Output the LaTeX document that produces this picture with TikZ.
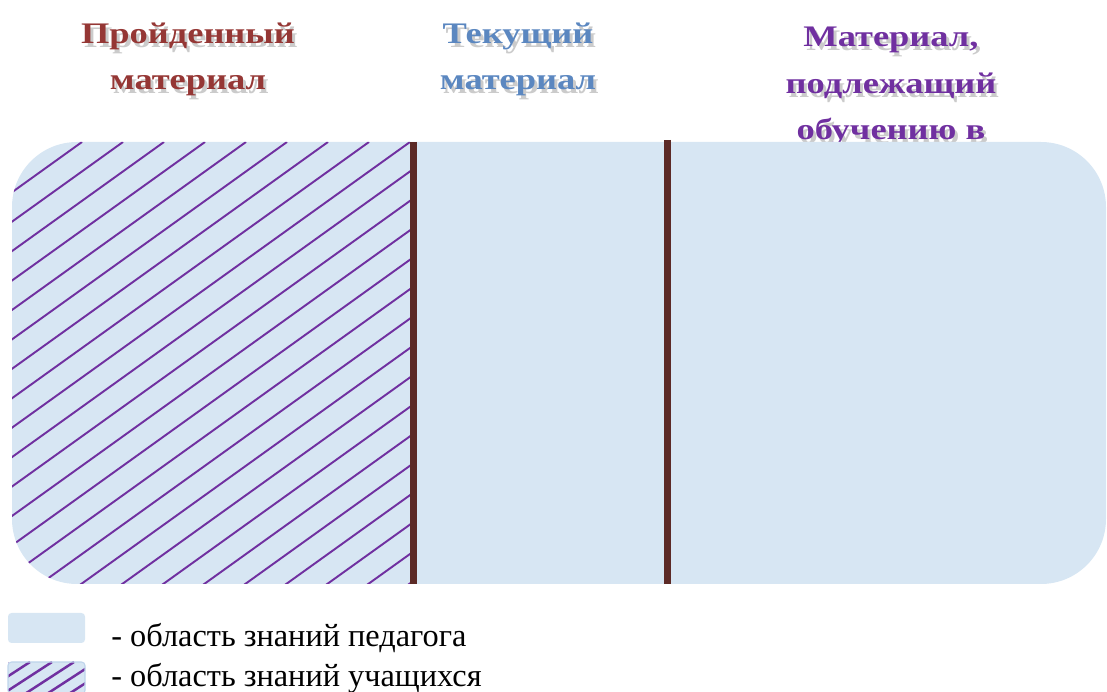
\documentclass[tikz,border=0pt]{standalone}
\usepackage{fontspec}
\setmainfont{Liberation Serif}
\newfontfamily\headfont{Liberation Serif}[FakeStretch=1.22]
\usetikzlibrary{positioning}

\definecolor{passedred}{HTML}{953735}
\definecolor{currentblue}{HTML}{5B87C0}
\definecolor{futureviolet}{HTML}{7030A0}
\definecolor{fieldblue}{RGB}{215,230,243}
\definecolor{legendedge}{RGB}{190,212,235}
\definecolor{dividerbrown}{HTML}{5C2A26}

\begin{document}
\begin{tikzpicture}[
    x=0.02cm, y=-0.02cm,
    heading/.style={anchor=base, align=center, inner sep=0pt, font=\headfont\bfseries\fontsize{17}{26.6}\selectfont},
    headshadow/.style={heading, text=black!45, opacity=0.45},
    field/.style={fill=fieldblue, rounded corners=1.3cm},
    hatchline/.style={futureviolet, line width=1.1pt},
    divider/.style={dividerbrown, line width=4pt},
    legendbox/.style={fill=fieldblue, rounded corners=2pt},
    legendtext/.style={anchor=base west, inner sep=0pt, font=\fontsize{18.4}{22}\selectfont}
]
\useasboundingbox (0,0) rectangle (1107,692);

\node [headshadow] at (191,94) {Пройденный\\материал};
\node [headshadow] at (521,94) {Текущий\\материал};
\node [headshadow] at (894,144) {Материал,\\подлежащий\\обучению в};
\node (passed) [heading, text=passedred] at (188,90) {Пройденный\\материал};
\node (current) [heading, text=currentblue] at (518,90) {Текущий\\материал};
\node (future) [heading, text=futureviolet] at (891,140) {Материал,\\подлежащий\\обучению в};

\fill [field] (12,142) rectangle (1106,584);

\begin{scope}
    \clip [rounded corners=1.3cm] (12,142) rectangle (1106,584);
    \clip (0,142) rectangle (410,584);
    \foreach \k in {-10,...,16}
        \draw [hatchline] ({410+41*\k},142) -- ++(-900,646);
\end{scope}

\coordinate (div1top) at (413.5,142);
\coordinate (div1bot) at (413.5,584);
\coordinate (div2top) at (667.5,140);
\coordinate (div2bot) at (667.5,584);
\draw [divider] (div1top) -- (div1bot);
\draw [divider] (div2top) -- (div2bot);

\fill [legendbox] (8,613) rectangle (85,643);
\node (teacher) [legendtext] at (111,647) {- область знаний педагога};

\fill [legendbox] (8,662) rectangle (85,694);
\begin{scope}
    \clip (8,662) rectangle (85,694);
    \foreach \k in {0,...,6}
        \draw [hatchline, line width=1.4pt] ({8+22*\k},662) -- ++(-100,65);
\end{scope}
\draw [legendedge, line width=0.6pt, rounded corners=2pt] (8,662) rectangle (85,694);
\node (pupils) [legendtext] at (111,687) {- область знаний учащихся};

\end{tikzpicture}
\end{document}
